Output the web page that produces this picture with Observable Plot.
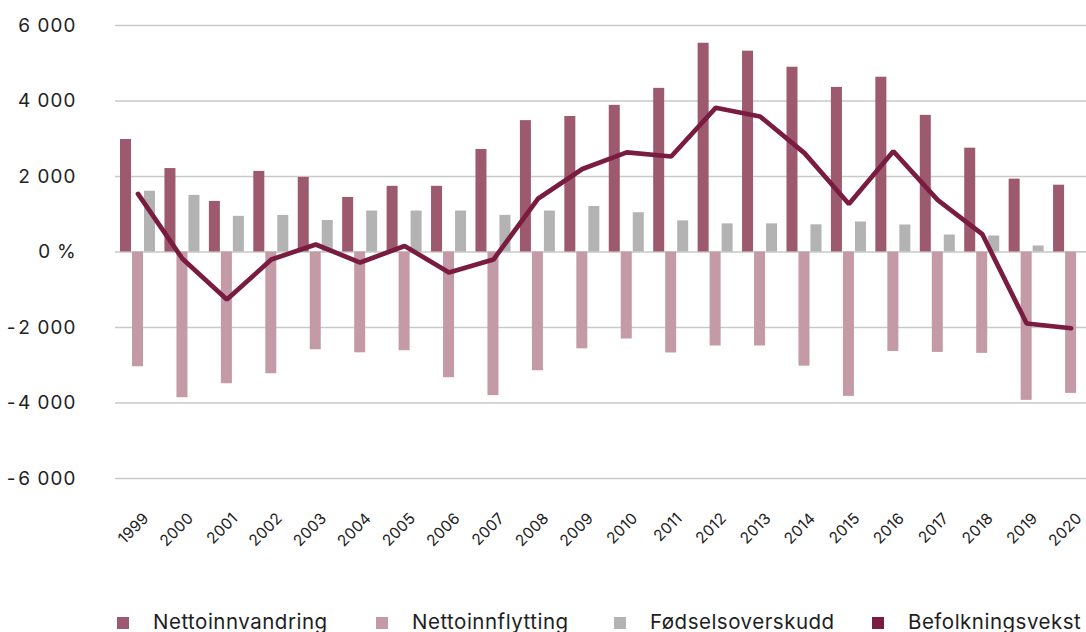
<!DOCTYPE html>
<html>
<head>
<meta charset="utf-8">
<script src="https://cdn.jsdelivr.net/npm/d3@7"></script>
<script src="https://cdn.jsdelivr.net/npm/@observablehq/plot@0.6"></script>
<style>
  html, body { margin: 0; padding: 0; background: #fff; }
  #chart svg { display: block; }
  #chart svg g[aria-label="y-axis tick label"] { letter-spacing: 0.8px; }
  #chart svg g[aria-label="text"] { letter-spacing: 0.2px; }
  #legend { position: relative; width: 1086px; height: 40px; font-family: Inter, "Noto Sans", sans-serif; font-size: 20.5px; letter-spacing: 0.5px; color: #1e1e1e; }
  .item { position: absolute; top: 0; height: 40px; }
  .sw { position: absolute; top: 25px; left: 0; width: 12px; height: 12px; }
  .lbl { position: absolute; left: 36px; top: 18px; white-space: nowrap; line-height: 24px; }
</style>
</head>
<body>
<div id="chart"></div>
<div id="legend"></div>
<script>
const years = ["1999","2000","2001","2002","2003","2004","2005","2006","2007","2008","2009","2010","2011","2012","2013","2014","2015","2016","2017","2018","2019","2020"];
const nettoinnvandring = [2980, 2210, 1340, 2135, 1975, 1445, 1740, 1740, 2715, 3480, 3590, 3885, 4335, 5530, 5320, 4895, 4360, 4630, 3620, 2750, 1930, 1770];
const nettoinnflytting = [-3040, -3860, -3490, -3225, -2590, -2670, -2615, -3330, -3805, -3145, -2565, -2305, -2675, -2490, -2490, -3025, -3825, -2635, -2660, -2685, -3930, -3745];
const fodselsoverskudd = [1610, 1500, 945, 970, 835, 1085, 1085, 1085, 970, 1085, 1205, 1040, 825, 745, 745, 720, 795, 715, 450, 425, 160, 10];
const befolkningsvekst = [1540, -180, -1260, -200, 200, -280, 160, -545, -200, 1410, 2200, 2640, 2530, 3820, 3590, 2620, 1270, 2670, 1375, 475, -1895, -2020];
const seriesNames = ["Nettoinnvandring", "Nettoinnflytting", "Fødselsoverskudd", "Befolkningsvekst"];
const seriesColors = ["#9d596e", "#c49aa6", "#b3b3b3", "#7a1c40"];
const yTicks = [-6000, -4000, -2000, 0, 2000, 4000, 6000];
const yTickLabels = ["-6 000", "-4 000", "-2 000", "0 %", "2 000", "4 000", "6 000"];

const W = 1086, H = 592;
const xRange = [115.3, 1092.8];
const bw = (xRange[1] - xRange[0]) / years.length;
const barW = 11, barStep = 12;
const groupW = barW * 3 + (barStep - barW) * 2;
const pad = (bw - groupW) / 2;

const barSeries = [nettoinnvandring, nettoinnflytting, fodselsoverskudd];
const barMarks = barSeries.map((vals, i) =>
  Plot.rectY(years, {
    x: d => d,
    y1: 0,
    y2: (d, j) => vals[j],
    fill: seriesColors[i],
    insetLeft: pad + i * barStep,
    insetRight: bw - pad - i * barStep - barW
  })
);

const chart = Plot.plot({
  width: W,
  height: H,
  marginLeft: 115,
  marginRight: 0,
  marginTop: 25,
  marginBottom: H - 478,
  style: { fontFamily: "Inter, 'Noto Sans', sans-serif", color: "#222", background: "#fff" },
  x: { type: "band", domain: years, range: xRange, padding: 0, round: false, axis: null },
  y: { domain: [-6000, 6000], axis: null },
  marks: [
    Plot.ruleY(yTicks, { stroke: "#c9c9c9", strokeWidth: 1.5 }),
    ...barMarks,
    Plot.line(years, {
      x: d => d,
      y: (d, i) => befolkningsvekst[i],
      stroke: seriesColors[3],
      strokeWidth: 4.7,
      strokeLinejoin: "miter",
      strokeLinecap: "round"
    }),
    Plot.axisY(yTicks, {
      anchor: "left",
      tickSize: 0,
      tickPadding: 39,
      fontSize: 19,
      fill: "#222",
      tickFormat: v => yTickLabels[yTicks.indexOf(v)]
    }),
    Plot.text(years, {
      x: d => d,
      frameAnchor: "bottom",
      dy: 33,
      dx: 4,
      rotate: -45,
      textAnchor: "end",
      lineAnchor: "top",
      fontSize: 15.5,
      fill: "#222",
      text: d => d
    })
  ]
});
document.getElementById("chart").appendChild(chart);

const legendPos = [117, 376, 614, 872];
const legend = document.getElementById("legend");
seriesNames.forEach((name, i) => {
  const item = document.createElement("div");
  item.className = "item";
  item.style.left = legendPos[i] + "px";
  const sw = document.createElement("div");
  sw.className = "sw";
  sw.style.background = seriesColors[i];
  const lbl = document.createElement("div");
  lbl.className = "lbl";
  lbl.textContent = name;
  item.appendChild(sw);
  item.appendChild(lbl);
  legend.appendChild(item);
});
</script>
</body>
</html>
